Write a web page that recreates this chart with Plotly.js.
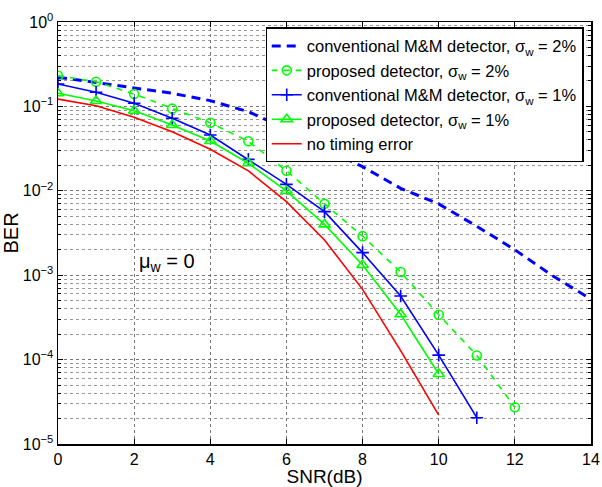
<!DOCTYPE html>
<html>
<head>
<meta charset="utf-8">
<script src="https://cdn.plot.ly/plotly-3.0.1.min.js"></script>
<style>html,body{margin:0;padding:0;background:#fff;}#chart{width:602px;height:487px;}</style>
</head>
<body>
<div id="chart"></div>
<script>
// SNR values (dB)
const snrConv2 = [0,1,2,3,4,5,6,7,8,9,10,11,12,13,14];
const berConv2 = [0.222,0.191,0.164,0.143,0.117,0.0865,0.054,0.0316,0.0193,0.0107,0.0070,0.0038,0.0020,0.00098,0.00052];

const snrProp2 = [0,1,2,3,4,5,6,7,8,9,10,11,12];
const berProp2 = [0.231,0.196,0.140,0.094,0.064,0.0386,0.0173,0.0070,0.0029,0.00109,0.00034,0.000112,0.0000272];

const snrConv1 = [0,1,2,3,4,5,6,7,8,9,10,11];
const berConv1 = [0.184,0.147,0.109,0.0723,0.0458,0.0236,0.0119,0.00566,0.00185,0.000567,0.000113,0.0000205];

const snrProp1 = [0,1,2,3,4,5,6,7,8,9,10];
const berProp1 = [0.143,0.116,0.0889,0.0602,0.0389,0.0212,0.00995,0.0040,0.00132,0.000344,0.0000676];

const snrNoErr = [0,1,2,3,4,5,6,7,8,9,10];
const berNoErr = [0.122,0.102,0.0743,0.050,0.031,0.0172,0.00743,0.00261,0.00068,0.000128,0.000022];

const legendNames = [
  'conventional M&amp;M detector, σ<sub>w</sub> = 2%',
  'proposed detector, σ<sub>w</sub> = 2%',
  'conventional M&amp;M detector, σ<sub>w</sub> = 1%',
  'proposed detector, σ<sub>w</sub> = 1%',
  'no timing error'
];

const yTickVals = [1e-5,1e-4,1e-3,1e-2,1e-1,1];
const yTickText = ['10<sup>−5</sup>','10<sup>−4</sup>','10<sup>−3</sup>','10<sup>−2</sup>','10<sup>−1</sup>','10<sup>0</sup>'];
const xTickVals = [0,2,4,6,8,10,12,14];

// minor tick positions for log axis (2..9 per decade)
const yMinor = [];
for (let e = -5; e < 0; e++) { for (let m = 2; m <= 9; m++) yMinor.push(m * Math.pow(10, e)); }

const traces = [
  {x: snrConv2, y: berConv2, name: legendNames[0], mode: 'lines',
   line: {color: '#0000ff', width: 3, dash: '9px,6px'}},
  {x: snrProp2, y: berProp2, name: legendNames[1], mode: 'lines+markers',
   line: {color: '#00ff00', width: 1.6, dash: '6px,6px'},
   marker: {symbol: 'circle-open', size: 9, color: '#00ff00', line: {width: 1.6, color: '#00ff00'}}},
  {x: snrConv1, y: berConv1, name: legendNames[2], mode: 'lines+markers',
   line: {color: '#0000ff', width: 1.6},
   marker: {symbol: 'cross-thin-open', size: 9, color: '#0000ff', line: {width: 1.6, color: '#0000ff'}}},
  {x: snrProp1, y: berProp1, name: legendNames[3], mode: 'lines+markers',
   line: {color: '#00ff00', width: 1.6},
   marker: {symbol: 'triangle-up-open', size: 10, color: '#00ff00', line: {width: 1.6, color: '#00ff00'}}},
  {x: snrNoErr, y: berNoErr, name: legendNames[4], mode: 'lines',
   line: {color: '#ff0000', width: 1.6}}
];

const FAM = 'Liberation Sans, Arial, sans-serif';
const axisFont = {family: FAM, size: 16, color: '#000'};

const layout = {
  width: 602, height: 487,
  margin: {l: 58, r: 11, t: 22, b: 43},
  paper_bgcolor: '#fff', plot_bgcolor: '#fff',
  font: axisFont,
  showlegend: true,
  legend: {
    x: 0.986, y: 0.987, xanchor: 'right', yanchor: 'top',
    bgcolor: '#fff', bordercolor: '#000', borderwidth: 1.2,
    font: {family: FAM, size: 16.5, color: '#000'},
    tracegroupgap: 0, itemwidth: 30
  },
  xaxis: {
    range: [0, 14], tickmode: 'array', tickvals: xTickVals,
    ticks: 'inside', ticklen: 5, tickcolor: '#000', tickwidth: 1,
    showline: true, linecolor: '#000', linewidth: 1.5, mirror: 'ticks',
    showgrid: true, gridcolor: '#777', gridwidth: 1, griddash: 'dot',
    zeroline: false, tickfont: axisFont,
    title: {text: 'SNR(dB)', font: {family: FAM, size: 19, color: '#000'}, standoff: 0}
  },
  yaxis: {
    type: 'log', range: [-5, 0], tickmode: 'array', tickvals: yTickVals, ticktext: yTickText,
    ticks: 'inside', ticklen: 5, tickcolor: '#000', tickwidth: 1,
    showline: true, linecolor: '#000', linewidth: 1.5, mirror: 'ticks',
    showgrid: true, gridcolor: '#777', gridwidth: 1, griddash: 'dot',
    zeroline: false, tickfont: axisFont,
    minor: {tickmode: 'array', tickvals: yMinor, ticks: 'inside', ticklen: 3, tickcolor: '#000',
            showgrid: true, gridcolor: '#999', gridwidth: 1, griddash: 'dot'},
    title: {text: 'BER', font: {family: FAM, size: 20, color: '#000'}, standoff: 2}
  },
  annotations: [{
    x: 2.85, y: -2.85, xref: 'x', yref: 'y', showarrow: false,
    text: 'μ<sub>w</sub> = 0',
    font: {family: FAM, size: 20, color: '#000'}
  }]
};

Plotly.newPlot('chart', traces, layout, {displayModeBar: false, staticPlot: true});
</script>
</body>
</html>
